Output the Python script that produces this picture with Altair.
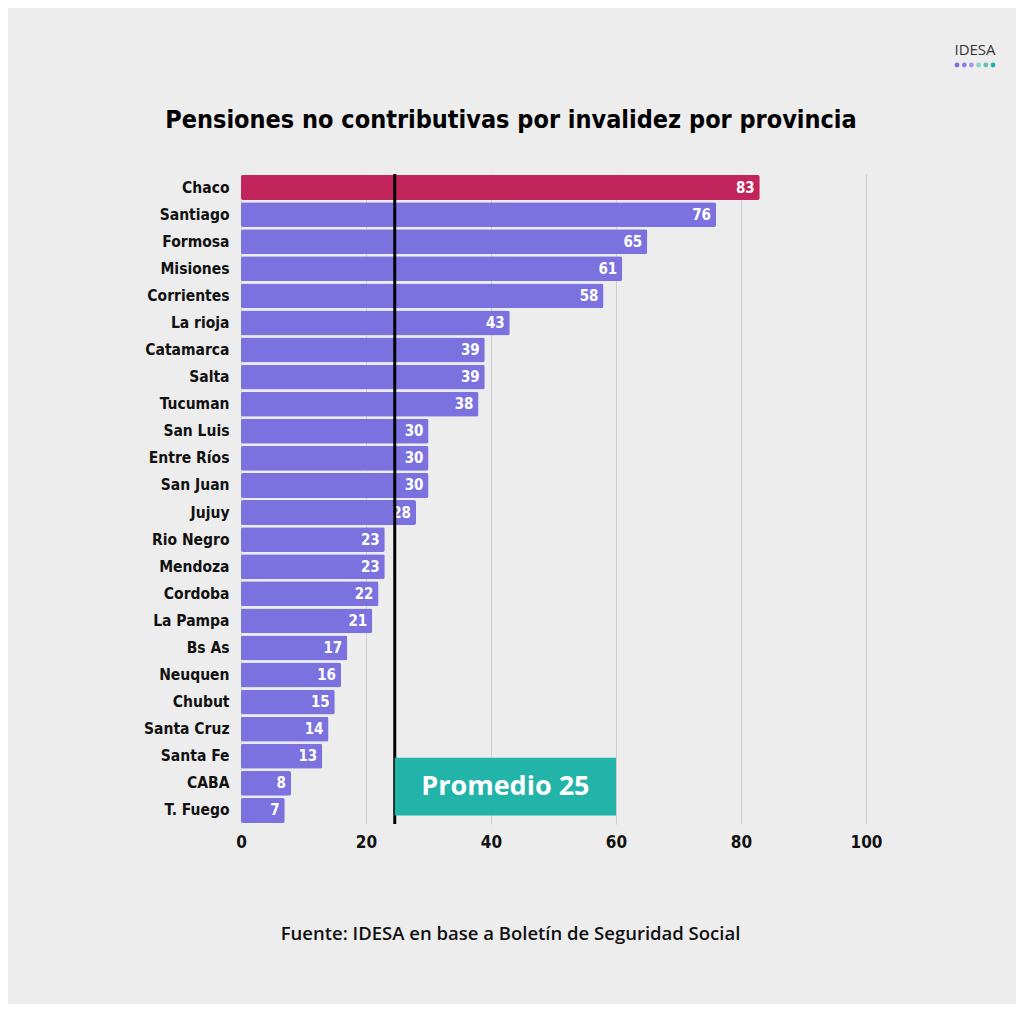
import altair as alt
import pandas as pd

provincias = ["Chaco", "Santiago", "Formosa", "Misiones", "Corrientes", "La rioja",
              "Catamarca", "Salta", "Tucuman", "San Luis", "Entre Ríos", "San Juan",
              "Jujuy", "Rio Negro", "Mendoza", "Cordoba", "La Pampa", "Bs As",
              "Neuquen", "Chubut", "Santa Cruz", "Santa Fe", "CABA", "T. Fuego"]
valores = [83, 76, 65, 61, 58, 43, 39, 39, 38, 30, 30, 30, 28, 23, 23, 22, 21, 17,
           16, 15, 14, 13, 8, 7]
destacado = ["Chaco"]
promedio_linea = 24.6
promedio_texto = "Promedio 25"
caja_x = [24.6, 60]
x_ticks = [0, 20, 40, 60, 80, 100]
titulo = "Pensiones no contributivas por invalidez por provincia"
fuente = "Fuente: IDESA en base a Boletín de Seguridad Social"
logo_texto = "IDESA"
dot_colors = ["#7b72e0", "#8a80e6", "#a39ce8", "#8fd3c6", "#5fc4b4", "#22b3a9"]

COND = "Liberation Sans Narrow, DejaVu Sans Condensed, sans-serif"

df = pd.DataFrame({"prov": provincias, "valor": valores})
df["color"] = ["#c2255c" if p in destacado else "#7b72e0" for p in provincias]

ysc = alt.Scale(domain=provincias, paddingInner=0.08, paddingOuter=0.04)
xsc = alt.Scale(domain=[0, 100], nice=False)

base = alt.Chart(df)

bars = base.mark_bar(cornerRadius=2).encode(
    x=alt.X("valor:Q", scale=xsc,
            axis=alt.Axis(values=x_ticks, grid=True, gridColor="#cfcfcf", domain=False,
                          ticks=False, labelFont=COND, labelFontWeight="bold",
                          labelFontSize=17, labelColor="#111111", labelPadding=10,
                          labelFlush=False,
                          title=fuente,
                          titleFont="Open Sans", titleFontWeight=600, titleFontSize=18.5,
                          titleColor="#111111", titleX=269, titleY=109,
                          titleAlign="center", titleAnchor="start",
                          titleBaseline="middle")),
    y=alt.Y("prov:N", scale=ysc, sort=provincias,
            axis=alt.Axis(title=None, domain=False, ticks=False, labelFont=COND,
                          labelFontWeight="bold", labelFontSize=15.5, labelColor="#111111",
                          labelPadding=12)),
    color=alt.Color("color:N", scale=None),
)

labels = base.mark_text(align="right", baseline="middle", dx=-5, font=COND,
                        fontWeight="bold", fontSize=15, color="white").encode(
    x=alt.X("valor:Q", scale=xsc),
    y=alt.Y("prov:N", scale=ysc, sort=provincias),
    text="valor:Q",
)

rule = alt.Chart(pd.DataFrame({"x": [promedio_linea]})).mark_rule(
    color="#000000", strokeWidth=3).encode(x=alt.X("x:Q", scale=xsc))

box_df = pd.DataFrame({"x1": [caja_x[0]], "x2": [caja_x[1]],
                       "y1": ["Santa Fe"], "y2": ["T. Fuego"]})
box = alt.Chart(box_df).mark_rect(color="#22b3a9").encode(
    x=alt.X("x1:Q", scale=xsc), x2="x2:Q",
    y=alt.Y("y1:N", scale=ysc, bandPosition=0.56),
    y2=alt.Y2("y2:N", bandPosition=0.70),
)

txt_df = pd.DataFrame({"x": [(caja_x[0] + caja_x[1]) / 2], "y": ["CABA"], "t": [promedio_texto]})
box_text = alt.Chart(txt_df).mark_text(font="Open Sans", fontWeight="bold", fontSize=27,
                                       color="white", baseline="middle").encode(
    x=alt.X("x:Q", scale=xsc),
    y=alt.Y("y:N", scale=ysc, bandPosition=0.65),
    text="t:N",
)

title_mark = alt.Chart(pd.DataFrame({"t": [titulo]})).mark_text(
    font=COND, fontWeight="bold", fontSize=25, color="#000000", align="center",
    baseline="middle"
).encode(x=alt.value(270), y=alt.value(-54), text="t:N")

logo = alt.Chart(pd.DataFrame({"t": [logo_texto]})).mark_text(
    font="Open Sans", fontSize=15, color="#333333", align="center", baseline="middle"
).encode(x=alt.value(734), y=alt.value(-124), text="t:N")

dot_layers = []
for i, c in enumerate(dot_colors):
    dot_layers.append(
        alt.Chart(pd.DataFrame({"c": [c]})).mark_circle(size=24, opacity=1, color=c).encode(
            x=alt.value(716 + i * 7.2), y=alt.value(-109))
    )

chart = alt.layer(bars, labels, rule, box, box_text, title_mark, logo, *dot_layers).properties(
    width=625, height=650,
    autosize=alt.AutoSizeParams(type="none"),
    padding={"left": 233, "top": 166, "right": 150, "bottom": 180},
).configure(background="#ededed").configure_view(stroke=None)

chart.save("out.html", embed_options={"renderer": "svg", "actions": False})
